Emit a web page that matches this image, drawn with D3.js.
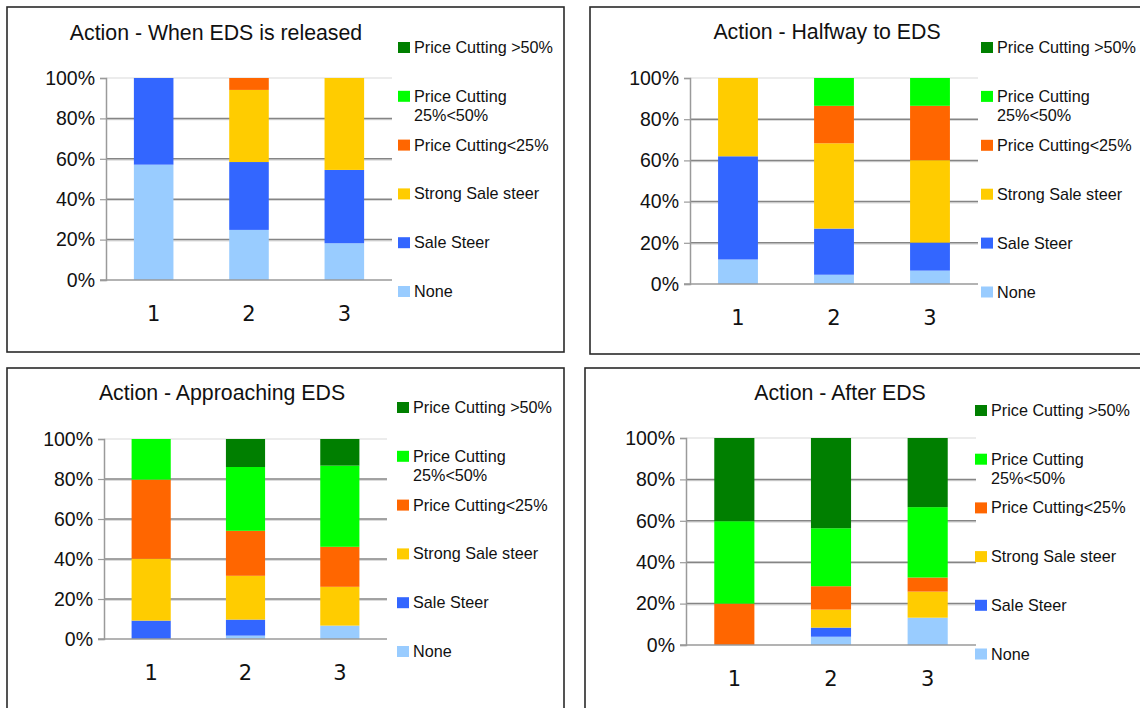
<!DOCTYPE html>
<html>
<head>
<meta charset="utf-8">
<script src="https://cdn.jsdelivr.net/npm/d3@7"></script>
<style>
  html, body { margin: 0; padding: 0; background: #fff; }
  svg { display: block; }
  text { font-family: "Liberation Sans", Arial, sans-serif; fill: #111; }
</style>
</head>
<body>
<svg id="chart" width="1140" height="708"></svg>
<script>
// Categories along the x axis of every panel
const categories = ["1", "2", "3"];

// Series, bottom of the stack first
const seriesNames = ["None", "Sale Steer", "Strong Sale steer", "Price Cutting<25%", "Price Cutting 25%<50%", "Price Cutting >50%"];
const seriesColors = ["#99ccff", "#3366ff", "#ffcc00", "#ff6600", "#00ff00", "#007f00"];

// Legend rows, top to bottom (multi-line labels split into lines)
const legendLabels = [["Price Cutting >50%"], ["Price Cutting", "25%<50%"], ["Price Cutting<25%"], ["Strong Sale steer"], ["Sale Steer"], ["None"]];

// Y axis tick labels
const tickValues = [0, 20, 40, 60, 80, 100];

// Panel titles
const titles = ["Action - When EDS is released", "Action - Halfway to EDS", "Action - Approaching EDS", "Action - After EDS"];

// Percent per series (None, Sale Steer, Strong Sale steer, PC<25, PC 25-50, PC>50) for categories 1..3
const whenReleased = [
  [57.1, 42.9, 0, 0, 0, 0],
  [24.8, 33.6, 35.7, 5.9, 0, 0],
  [18.2, 36.3, 45.5, 0, 0, 0]
];
const halfway = [
  [11.9, 50.1, 38.0, 0, 0, 0],
  [4.5, 22.4, 41.4, 18.2, 13.5, 0],
  [6.5, 13.6, 40.0, 26.4, 13.5, 0]
];
const approaching = [
  [0, 9.2, 30.9, 39.6, 20.3, 0],
  [1.7, 8.0, 21.9, 22.5, 31.9, 14.0],
  [6.7, 0, 19.4, 20.0, 40.6, 13.3]
];
const afterEds = [
  [0, 0, 0, 20.0, 39.8, 40.2],
  [4.0, 4.4, 8.7, 11.3, 28.0, 43.6],
  [13.2, 0, 12.6, 6.8, 34.0, 33.4]
];

const panelData = [whenReleased, halfway, approaching, afterEds];

// Geometry of the four panels
const layouts = [
  { box: [7, 7, 557, 345], plot: [106, 392, 78, 280], titleX: 216, titleY: 40, legX: 398, legY: 53, legStep: 48.8 },
  { box: [590, 7, 560, 347], plot: [690, 978, 78, 284], titleX: 827, titleY: 39, legX: 981, legY: 53, legStep: 48.9 },
  { box: [7, 368, 557, 360], plot: [104, 387, 439, 639], titleX: 222, titleY: 400, legX: 397, legY: 413, legStep: 48.8 },
  { box: [585, 368, 570, 360], plot: [686, 976, 438, 645], titleX: 840, titleY: 400, legX: 975, legY: 416, legStep: 48.7 }
];

const svg = d3.select("#chart");

layouts.forEach((L, pi) => {
  const g = svg.append("g");
  const [x0, x1, yT, yB] = L.plot;
  const rows = panelData[pi];

  // Panel frame
  g.append("rect")
    .attr("x", L.box[0]).attr("y", L.box[1])
    .attr("width", L.box[2]).attr("height", L.box[3])
    .attr("fill", "#fff").attr("stroke", "#2a2a2a").attr("stroke-width", 1.6);

  // Title
  g.append("text")
    .attr("x", L.titleX).attr("y", L.titleY)
    .attr("text-anchor", "middle")
    .style("font-size", "21.3px")
    .text(titles[pi]);

  const x = d3.scaleBand().domain(categories).range([x0, x1])
    .paddingInner(0.585).paddingOuter(0.2925);
  const y = d3.scaleLinear().domain([0, 100]).range([yB, yT]);

  // Grid lines with a soft shadow beneath
  const grid = g.append("g");
  tickValues.forEach(v => {
    if (v === 0) return;
    const yy = y(v);
    if (v === 100) {
      grid.append("line").attr("x1", x0).attr("x2", x1).attr("y1", yy).attr("y2", yy)
        .attr("stroke", "#e6e6e6").attr("stroke-width", 1.5);
    } else {
      grid.append("line").attr("x1", x0).attr("x2", x1).attr("y1", yy + 1.3).attr("y2", yy + 1.3)
        .attr("stroke", "#dcdcdc").attr("stroke-width", 1.2);
      grid.append("line").attr("x1", x0).attr("x2", x1).attr("y1", yy).attr("y2", yy)
        .attr("stroke", "#858585").attr("stroke-width", 1.5);
    }
  });

  // Stacked bars
  const stackInput = rows.map((r, i) => {
    const o = { cat: categories[i] };
    seriesNames.forEach((s, k) => { o[s] = r[k]; });
    return o;
  });
  const stacked = d3.stack().keys(seriesNames)(stackInput);
  g.append("g").selectAll("g")
    .data(stacked)
    .join("g")
    .attr("fill", (d, k) => seriesColors[k])
    .selectAll("rect")
    .data(d => d.filter(s => s[1] - s[0] > 0))
    .join("rect")
    .attr("x", d => x(d.data.cat))
    .attr("width", x.bandwidth())
    .attr("y", d => y(d[1]))
    .attr("height", d => y(d[0]) - y(d[1]));

  // Y axis
  const yAxis = g.append("g")
    .attr("transform", `translate(${x0},0)`)
    .call(d3.axisLeft(y).tickValues(tickValues).tickSize(6).tickPadding(5).tickFormat(d => d + "%"));
  yAxis.select(".domain").attr("stroke", "#9a9a9a").attr("stroke-width", 1.5);
  yAxis.selectAll(".tick line").attr("stroke", "#9a9a9a").attr("stroke-width", 1.2);
  yAxis.selectAll(".tick text")
    .style("font-family", "'Liberation Sans', Arial, sans-serif")
    .style("font-size", "19.5px").attr("fill", "#111");

  // Baseline
  g.append("line").attr("x1", x0 - 6).attr("x2", x1).attr("y1", yB).attr("y2", yB)
    .attr("stroke", "#9a9a9a").attr("stroke-width", 1.5);

  // Category labels
  const xAxis = g.append("g")
    .attr("transform", `translate(0,${yB})`)
    .call(d3.axisBottom(x).tickSize(0).tickPadding(26));
  xAxis.select(".domain").remove();
  xAxis.selectAll(".tick text")
    .style("font-family", "'DejaVu Sans', sans-serif")
    .style("font-size", "21px").attr("fill", "#111");

  // Legend
  const leg = g.append("g");
  legendLabels.forEach((lines, i) => {
    const by = L.legY + i * L.legStep;
    const colorIdx = seriesNames.length - 1 - i;
    leg.append("rect")
      .attr("x", L.legX).attr("y", by - 11)
      .attr("width", 12).attr("height", 11)
      .attr("fill", seriesColors[colorIdx]);
    const t = leg.append("text")
      .attr("x", L.legX + 16).attr("y", by)
      .style("font-size", "16.2px");
    lines.forEach((ln, j) => {
      t.append("tspan").attr("x", L.legX + 16).attr("dy", j === 0 ? 0 : 19.5).text(ln);
    });
  });
});
</script>
</body>
</html>
